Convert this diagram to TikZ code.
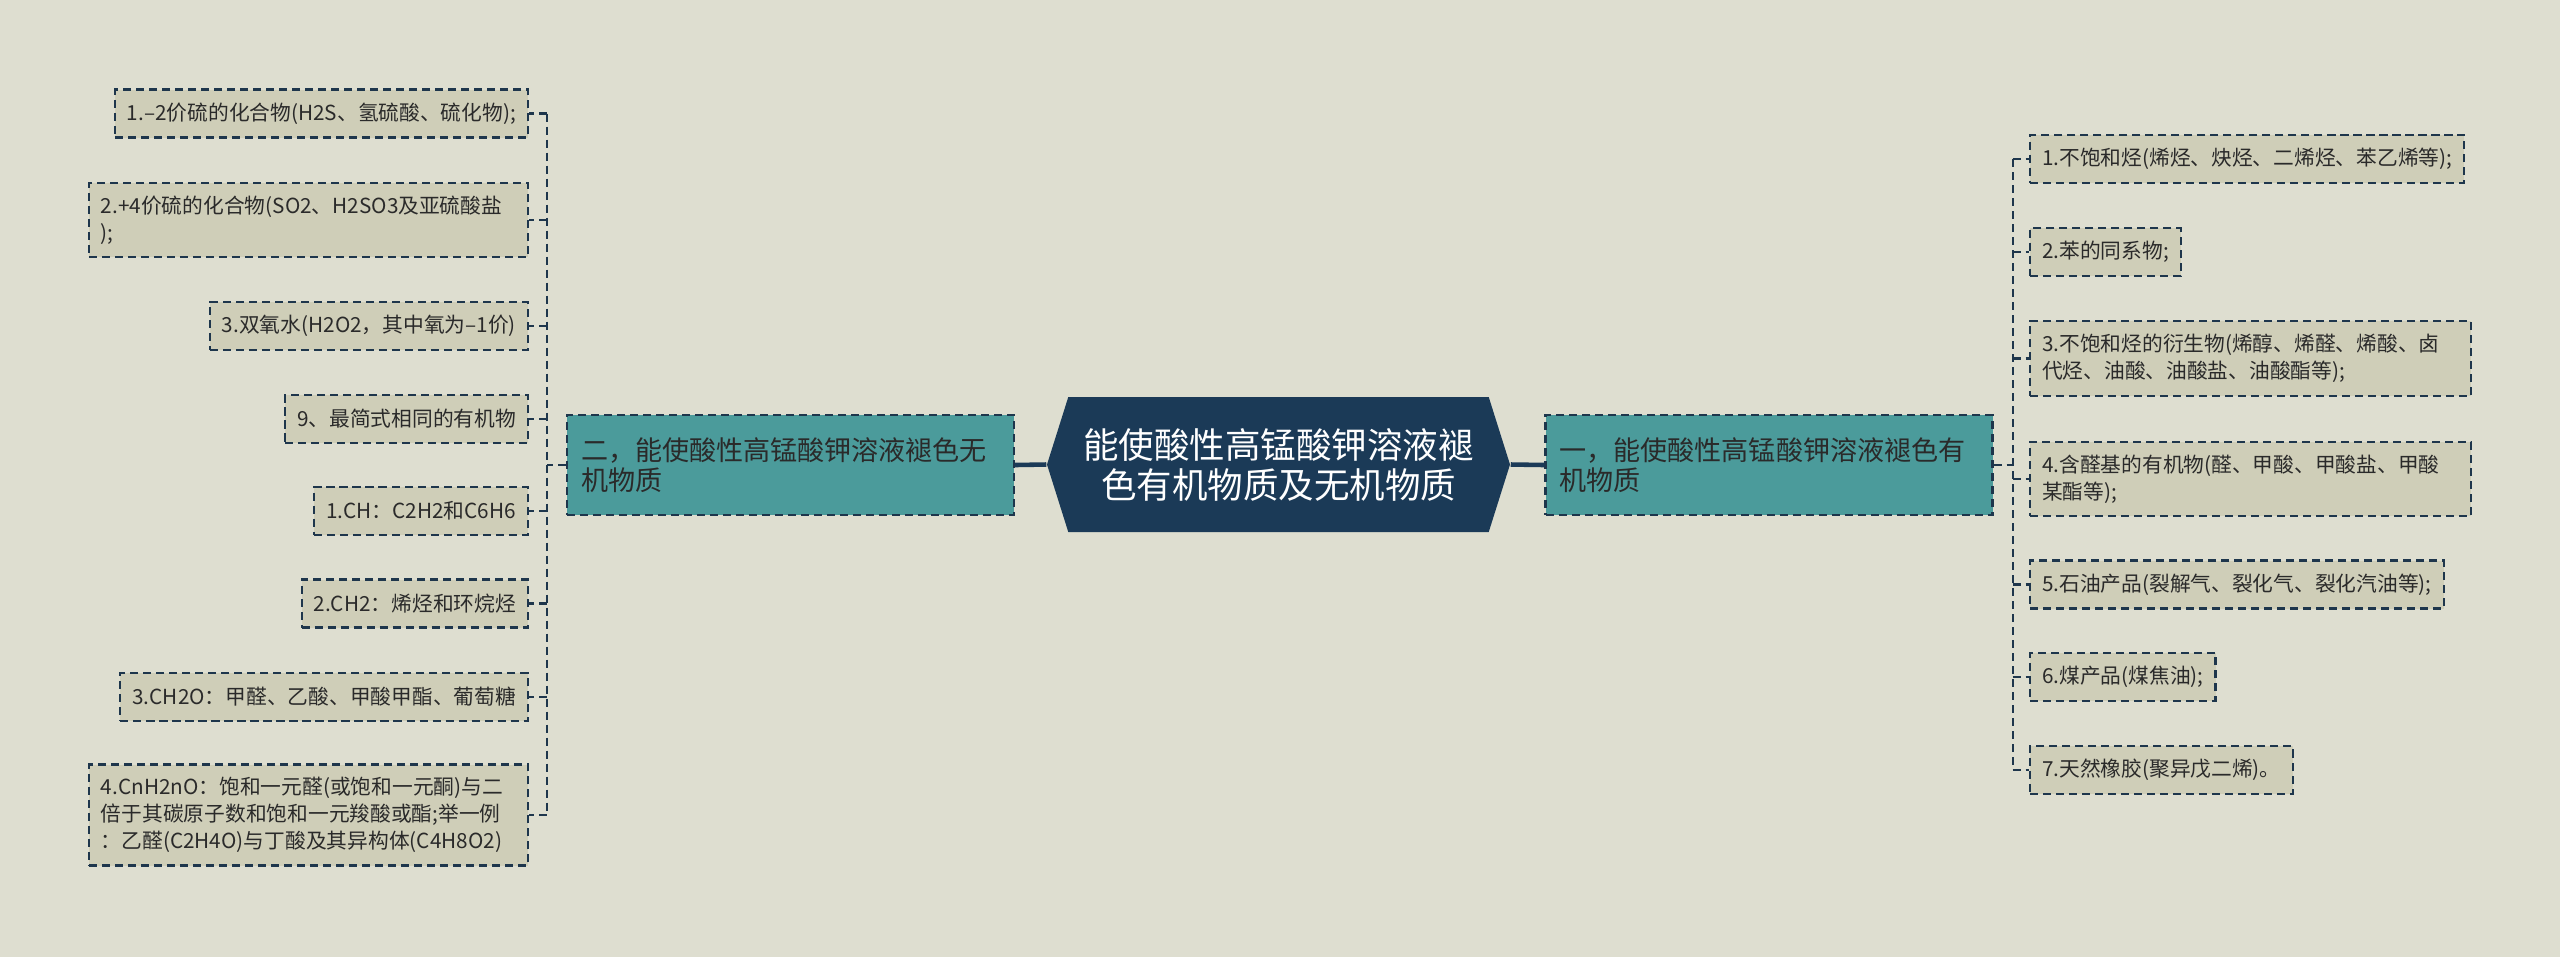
\documentclass[tikz,border=0pt]{standalone}
\usepackage{fontspec}
\newfontfamily\cjkfont{Noto Sans CJK SC}
\usetikzlibrary{shapes.symbols, calc}
\definecolor{bgcol}{HTML}{DEDED0}
\definecolor{leafcol}{HTML}{CFCEB8}
\definecolor{tealcol}{HTML}{4B9B9B}
\definecolor{navy}{HTML}{1B3A57}
\definecolor{linecol}{HTML}{1E364C}
\definecolor{txtcol}{HTML}{2A2A2A}

\begin{document}
\begin{tikzpicture}[
    leaf/.style={draw=linecol, line width=0.6pt, dash pattern=on 2.3pt off 1.4pt,
        fill=leafcol, text=txtcol, font=\cjkfont\fontsize{5.9}{7.6}\selectfont,
        inner xsep=0.12cm, inner ysep=0.08cm, minimum height=0.48cm},
    branch/.style={draw=linecol, line width=0.6pt, dash pattern=on 2.3pt off 1.4pt,
        fill=tealcol, text=txtcol, font=\cjkfont\fontsize{7.7}{8.6}\selectfont,
        text width=4.19cm, align=left, inner xsep=0.14cm, minimum height=1.0cm},
    link/.style={linecol, line width=0.6pt, dash pattern=on 2.3pt off 1.4pt},
    stem/.style={navy, line width=1.3pt}
]
\fill[bgcol] (0,0) rectangle (25.6,-9.57);
\useasboundingbox (0,0) rectangle (25.6,-9.57);

% centre
\node[shape=signal, signal to=east and west, signal pointer angle=145, fill=navy,
    text=white, font=\cjkfont\fontsize{10.1}{11.4}\selectfont, align=center,
    minimum width=4.63cm, minimum height=1.35cm, inner sep=0pt] (root) at (12.785,-4.645)
    {能使酸性高锰酸钾溶液褪\\色有机物质及无机物质};

% main branches
\node[branch] (lbranch) at (7.905,-4.65) {二，能使酸性高锰酸钾溶液褪色无\\机物质};
\node[branch] (rbranch) at (17.69,-4.65) {一，能使酸性高锰酸钾溶液褪色有\\机物质};
\draw[stem] (root.west) -- (lbranch.east);
\draw[stem] (root.east) -- (rbranch.west);

% left leaves
\node[leaf, anchor=east] (l1) at (5.29,-1.135) {1.–2价硫的化合物(H2S、氢硫酸、硫化物);};
\node[leaf, anchor=east, text width=4.15cm, align=left, minimum height=0.74cm] (l2) at (5.29,-2.20)
    {2.+4价硫的化合物(SO2、H2SO3及亚硫酸盐\\);};
\node[leaf, anchor=east] (l3) at (5.29,-3.26) {3.双氧水(H2O2，其中氧为–1价)};
\node[leaf, anchor=east] (l4) at (5.29,-4.19) {9、最简式相同的有机物};
\node[leaf, anchor=east] (l5) at (5.29,-5.11) {1.CH：C2H2和C6H6};
\node[leaf, anchor=east] (l6) at (5.29,-6.035) {2.CH2：烯烃和环烷烃};
\node[leaf, anchor=east] (l7) at (5.29,-6.97) {3.CH2O：甲醛、乙酸、甲酸甲酯、葡萄糖};
\node[leaf, anchor=east, text width=4.15cm, align=left, minimum height=1.01cm] (l8) at (5.29,-8.15)
    {4.CnH2nO：饱和一元醛(或饱和一元酮)与二\\倍于其碳原子数和饱和一元羧酸或酯;举一例\\：乙醛(C2H4O)与丁酸及其异构体(C4H8O2)};

% right leaves
\node[leaf, anchor=west] (r1) at (20.29,-1.59) {1.不饱和烃(烯烃、炔烃、二烯烃、苯乙烯等);};
\node[leaf, anchor=west] (r2) at (20.29,-2.52) {2.苯的同系物;};
\node[leaf, anchor=west, text width=4.17cm, align=left, minimum height=0.75cm] (r3) at (20.29,-3.585)
    {3.不饱和烃的衍生物(烯醇、烯醛、烯酸、卤\\代烃、油酸、油酸盐、油酸酯等);};
\node[leaf, anchor=west, text width=4.17cm, align=left, minimum height=0.74cm] (r4) at (20.29,-4.79)
    {4.含醛基的有机物(醛、甲酸、甲酸盐、甲酸\\某酯等);};
\node[leaf, anchor=west] (r5) at (20.29,-5.845) {5.石油产品(裂解气、裂化气、裂化汽油等);};
\node[leaf, anchor=west] (r6) at (20.29,-6.77) {6.煤产品(煤焦油);};
\node[leaf, anchor=west] (r7) at (20.29,-7.70) {7.天然橡胶(聚异戊二烯)。};

% dashed trunks
\coordinate (lt) at ($(lbranch.west)+(-0.19,0)$);
\coordinate (rt) at ($(rbranch.east)+(0.19,0)$);
\draw[link] (lbranch.west) -- (lt);
\draw[link] (rbranch.east) -- (rt);
\draw[link] (lt |- l1.east) -- (lt |- l8.east);
\draw[link] (rt |- r1.west) -- (rt |- r7.west);
\foreach \n in {l1,l2,l3,l4,l5,l6,l7,l8}
    \draw[link] (lt |- \n.east) -- (\n.east);
\foreach \n in {r1,r2,r3,r4,r5,r6,r7}
    \draw[link] (rt |- \n.west) -- (\n.west);
\end{tikzpicture}
\end{document}
